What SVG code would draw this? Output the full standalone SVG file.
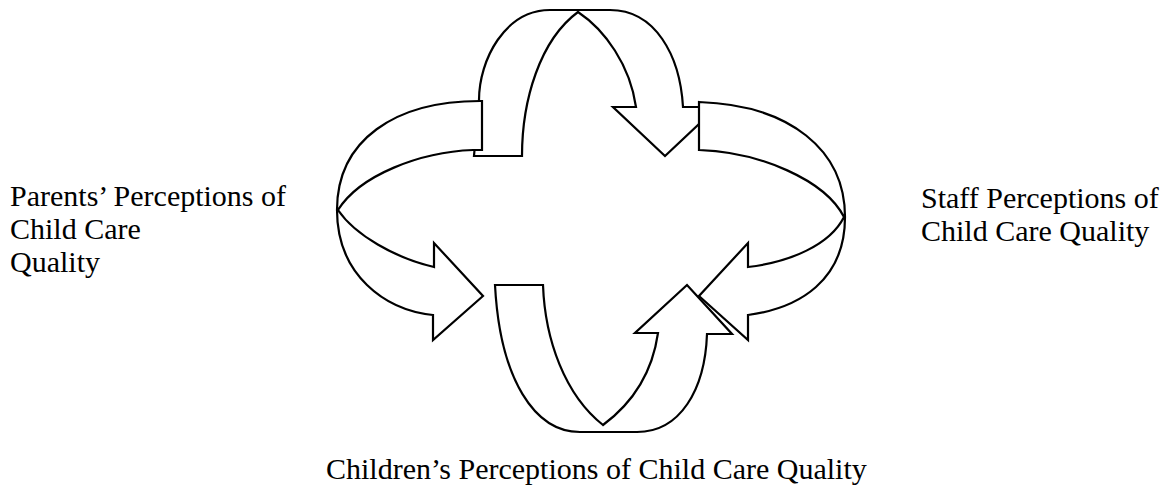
<svg xmlns="http://www.w3.org/2000/svg" width="1169" height="498" viewBox="0 0 1169 498">
  <style>
    .band { fill: #ffffff; stroke: #000000; stroke-width: 2.2; stroke-linejoin: miter; }
    .label { font-family: "Liberation Serif", "Times New Roman", serif; font-size: 30px; fill: #000000; }
  </style>
  <rect x="0" y="0" width="1169" height="498" fill="#ffffff"/>

  <!-- curved ribbon arrows forming the feedback cycle -->
  <g id="connectors">
    <!-- top: from parents over to staff -->
    <path id="arrow-top" class="band" d="M 474,156 L 522,156 C 522,100 540,40 578,12 C 605,30 630,65 636,107 L 613,107 L 665,156 L 717,107 L 683,107 C 680,55 655,10 610,10 L 550,10 C 505,10 479,60 479,100 Z"/>
    <!-- left: from the top back down toward children -->
    <path id="arrow-left" class="band" d="M 480,101 L 482,101 L 482,150 L 473,150 C 420,152 360,175 338,210 C 355,235 395,258 434,267 L 434,243 L 483,296 L 433,340 L 433,315 C 385,310 337,275 337,210 C 337,140 395,101 480,101 Z"/>
    <!-- right: from the top around the staff side -->
    <path id="arrow-right" class="band" d="M 699,102 L 699,150 C 760,152 825,180 844,217 C 830,245 790,262 748,267 L 748,243 L 699,296 L 748,340 L 748,315 C 800,308 845,280 845,217 C 845,150 790,105 699,102 Z"/>
    <!-- bottom: under children, pointing back up -->
    <path id="arrow-bottom" class="band" d="M 495,285 L 543,285 C 545,340 565,395 603,425 C 630,405 652,375 658,333 L 635,333 L 687,285 L 732,334 L 707,334 C 705,390 680,432 637,432 L 580,432 C 535,432 500,380 495,285 Z"/>
  </g>

  <g id="node-parents">
    <text class="label" x="10" y="206">Parents’ Perceptions of</text>
    <text class="label" x="10" y="239">Child Care</text>
    <text class="label" x="10" y="272">Quality</text>
  </g>

  <g id="node-staff">
    <text class="label" x="921" y="208">Staff Perceptions of</text>
    <text class="label" x="921" y="241">Child Care Quality</text>
  </g>

  <g id="node-children">
    <text class="label" x="326" y="479">Children’s Perceptions of Child Care Quality</text>
  </g>
</svg>
